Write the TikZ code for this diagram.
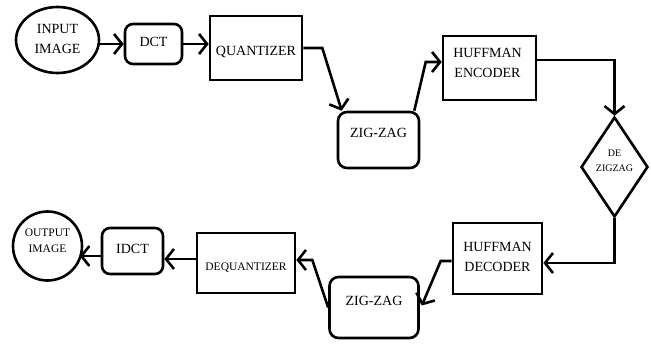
\documentclass[tikz,border=0pt]{standalone}
\usepackage{fontspec}
\setmainfont{Liberation Serif}
\usetikzlibrary{shapes.geometric,arrows.meta,calc}
\tikzset{
  lw/.style={line width=2.6pt},
  box/.style={draw, lw, rectangle, inner sep=0pt},
  rbox/.style={draw, lw, rectangle, rounded corners=9pt, inner sep=0pt},
  lab/.style={font=\fontsize{14}{20}\selectfont, align=center, inner sep=0pt},
  slab/.style={font=\fontsize{11.5}{16}\selectfont, align=center, inner sep=0pt},
  tlab/.style={font=\fontsize{10}{15}\selectfont, align=center, inner sep=0pt},
  arr/.style={lw, -{Straight Barb[length=8pt,width=20pt]}},
}
\begin{document}
\begin{tikzpicture}[x=1pt,y=-1pt]
\useasboundingbox[fill=white] (0,0) rectangle (651,345);
% nodes
\node[draw, lw, ellipse, minimum width=83pt, minimum height=66pt, inner sep=0pt,
  label={[lab, yshift=1pt]center:INPUT\\IMAGE}] (in) at (57.5,40) {};
\node[rbox, rounded corners=8pt, minimum width=57pt, minimum height=40pt,
  label={[lab, yshift=2pt]center:DCT}] (dct) at (153.5,44) {};
\node[box, minimum width=92pt, minimum height=64pt,
  label={[lab, yshift=-4pt]center:QUANTIZER}] (quant) at (256,48) {};
\node[rbox, minimum width=81pt, minimum height=56pt,
  label={[lab, yshift=7pt]center:ZIG-ZAG}] (zz1) at (378.5,140) {};
\node[box, minimum width=93pt, minimum height=64pt,
  label={[lab, xshift=-2pt, yshift=5pt]center:HUFFMAN\\ENCODER}] (henc) at (489.5,68) {};
\node[draw, lw, diamond, minimum width=67pt, minimum height=100pt, inner sep=0pt,
  label={[tlab, yshift=6.5pt]center:DE\\ZIGZAG}] (dz) at (614.5,167) {};
\node[box, minimum width=89pt, minimum height=71pt,
  label={[lab, yshift=2pt]center:HUFFMAN\\DECODER}] (hdec) at (497.5,258.5) {};
\node[rbox, minimum width=89pt, minimum height=61pt,
  label={[lab, yshift=7pt]center:ZIG-ZAG}] (zz2) at (374,307.5) {};
\node[box, minimum width=98pt, minimum height=60pt,
  label={[slab, yshift=-5pt]center:DEQUANTIZER}] (deq) at (246,263) {};
\node[rbox, rounded corners=8pt, minimum width=61pt, minimum height=46pt,
  label={[lab, yshift=2pt]center:IDCT}] (idct) at (132.5,251) {};
\node[draw, lw, circle, minimum size=69pt, inner sep=0pt,
  label={[slab, yshift=5pt]center:OUTPUT\\IMAGE}] (out) at (47.5,246) {};
% connectors
\draw[arr] (dct.west -| in.east) -- (dct.west);
\draw[arr] (dct.east) -- (dct.east -| quant.west);
\draw[arr] (quant.east) -- ++(19,0) -- ($(zz1.north west)+(5,0)$);
\draw[arr] ($(zz1.north east)+(-6,0)$) -- ($(henc.west)+(-16,-6)$) -- ($(henc.west)+(0,-6)$);
\draw[arr] ($(henc.east)+(0,-8)$) -| (dz.north);
\draw[arr] (dz.south) |- ($(hdec.east)+(0,4.5)$);
\draw[arr] ($(hdec.west)+(0,2.5)$) -- ++(-11,0) -- ($(zz2.east)+(2,-2)$);
\draw[arr] (zz2.west) -- ($(deq.east)+(16,-3)$) -- ($(deq.east)+(0,-3)$);
\draw[arr] ($(deq.west)+(0,-4)$) -- ($(idct.east)+(0,8)$);
\draw[arr] ($(idct.west)+(0,5)$) -- ($(idct.west)+(-21,5)$);
\end{tikzpicture}
\end{document}
